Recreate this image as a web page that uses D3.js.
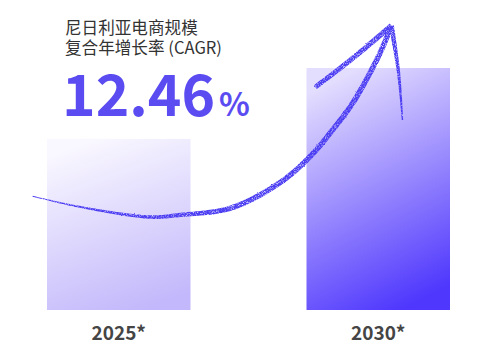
<!DOCTYPE html>
<html>
<head>
<meta charset="utf-8">
<script src="https://cdn.jsdelivr.net/npm/d3@7"></script>
<style>
  html, body { margin: 0; padding: 0; background: #fff; }
  svg { display: block; }
</style>
</head>
<body>
<div id="vis"></div>
<script>
// data
const categories = ['2025*', '2030*']
const values = [70.7, 100]
const titleLines = ['尼日利亚电商规模', '复合年增长率 (CAGR)']
const cagrNumber = '12.46'
const cagrUnit = '%'
// arrow annotation: [bar-width units from first bar, value units]
const arrowShaft = [[-0.1, 47], [0.23, 42.6], [0.72, 38.4], [0.93, 39.3], [1.28, 42.1],
                    [1.62, 52.5], [1.83, 63.2], [1.99, 74.4], [2.13, 85.5], [2.25, 97.9],
                    [2.33, 107.4], [2.40, 117.5]]
const arrowLeft = [[2.40, 117.5], [2.13, 104], [1.87, 92.1]]
const arrowRight = [[2.40, 117.5], [2.45, 98], [2.477, 78.5]]

;(function() {
  const svg_width = 493,
        svg_height = 355,
        svg = d3.select('#vis').append('svg')

  svg.attr('width', svg_width).attr('height', svg_height)

  const defs = svg.append('defs')

  const grads = [
    ['#f9f7ff', '#c3b8fb'],
    ['#e4defe', '#4f37fd']
  ]
  grads.forEach((g, i) => {
    const lg = defs.append('linearGradient')
      .attr('id', 'bar' + i)
      .attr('x1', 0.35).attr('y1', 0).attr('x2', 0.65).attr('y2', 1)
    lg.append('stop').attr('offset', 0).attr('stop-color', g[0])
    lg.append('stop').attr('offset', 1).attr('stop-color', g[1])
  })

  // pencil texture
  const f = defs.append('filter').attr('id', 'pencil')
    .attr('x', '-10%').attr('y', '-10%').attr('width', '120%').attr('height', '120%')
  f.append('feTurbulence').attr('type', 'fractalNoise').attr('baseFrequency', 1.1)
    .attr('numOctaves', 2).attr('seed', 3).attr('result', 'noise')
  f.append('feDisplacementMap').attr('in', 'SourceGraphic').attr('in2', 'noise')
    .attr('scale', 1.8).attr('xChannelSelector', 'R').attr('yChannelSelector', 'G')
    .attr('result', 'disp')
  f.append('feColorMatrix').attr('in', 'noise').attr('type', 'matrix')
    .attr('values', '0 0 0 0 0  0 0 0 0 0  0 0 0 0 0  0 0 0 2.2 -0.2')
    .attr('result', 'speck')
  f.append('feComposite').attr('in', 'disp').attr('in2', 'speck').attr('operator', 'in')

  const x = d3.scaleBand()
    .domain(categories)
    .range([47, 450])
    .paddingInner(0.447)

  const y = d3.scaleLinear()
    .domain([0, 100])
    .range([310, 68])

  // bars
  svg.append('g').attr('class', 'bars')
    .selectAll('rect')
    .data(values)
    .join('rect')
    .attr('x', (d, i) => x(categories[i]))
    .attr('y', d => y(d))
    .attr('width', x.bandwidth())
    .attr('height', d => y(0) - y(d))
    .attr('fill', (d, i) => `url(#bar${i})`)

  // category labels
  svg.append('g').attr('class', 'labels')
    .selectAll('text')
    .data(categories)
    .join('text')
    .attr('x', d => x(d) + x.bandwidth() / 2)
    .attr('y', 340)
    .attr('text-anchor', 'middle')
    .attr('font-family', '"Noto Sans CJK SC", "Noto Sans", sans-serif')
    .attr('font-weight', 700)
    .attr('font-size', 19)
    .attr('fill', '#454545')
    .text(d => d)

  // title
  svg.append('g').attr('class', 'title')
    .selectAll('text')
    .data(titleLines)
    .join('text')
    .attr('x', 65)
    .attr('y', (d, i) => 34 + i * 20)
    .attr('font-family', '"Noto Sans CJK SC", sans-serif')
    .attr('font-size', 16.6)
    .attr('fill', '#333')
    .text(d => d)

  const big = svg.append('text')
    .attr('x', 62)
    .attr('y', 116)
    .attr('font-family', '"Noto Sans CJK SC", "Noto Sans", sans-serif')
    .attr('font-weight', 700)
    .attr('fill', '#5b4cf1')
  big.append('tspan').attr('font-size', 57).text(cagrNumber)
  big.append('tspan').attr('font-size', 32).attr('dx', 4).text(cagrUnit)

  // arrow
  const xu = d3.scaleLinear().domain([0, 1])
    .range([x(categories[0]), x(categories[0]) + x.bandwidth()])
  const line = d3.line()
    .x(d => xu(d[0])).y(d => y(d[1]))
    .curve(d3.curveCatmullRom.alpha(0.5))

  const arrowG = svg.append('g').attr('class', 'arrow').attr('filter', 'url(#pencil)')

  const stroke = (pts, wfn) => {
    const tmp = arrowG.append('path').attr('d', line(pts)).attr('fill', 'none')
    const node = tmp.node()
    const L = node.getTotalLength()
    const n = Math.ceil(L / 2)
    const left = [], right = []
    for (let k = 0; k <= n; k++) {
      const t = k / n
      const p = node.getPointAtLength(t * L)
      const q = node.getPointAtLength(Math.min(L, t * L + 0.5))
      const p0 = node.getPointAtLength(Math.max(0, t * L - 0.5))
      let dx = q.x - p0.x, dy = q.y - p0.y
      const len = Math.hypot(dx, dy) || 1
      dx /= len; dy /= len
      const w = wfn(t) / 2
      left.push([p.x - dy * w, p.y + dx * w])
      right.push([p.x + dy * w, p.y - dx * w])
    }
    tmp.remove()
    arrowG.append('path')
      .attr('d', 'M' + left.concat(right.reverse()).map(p => p.join(',')).join('L') + 'Z')
      .attr('fill', '#4b3cf2')
  }

  stroke(arrowShaft, t => 0.8 + 4.6 * Math.min(1, t / 0.45))
  stroke(arrowLeft, t => 5.4 - 0.6 * t)
  stroke(arrowRight, t => 5 - 3.6 * t)
}())
</script>
</body>
</html>
